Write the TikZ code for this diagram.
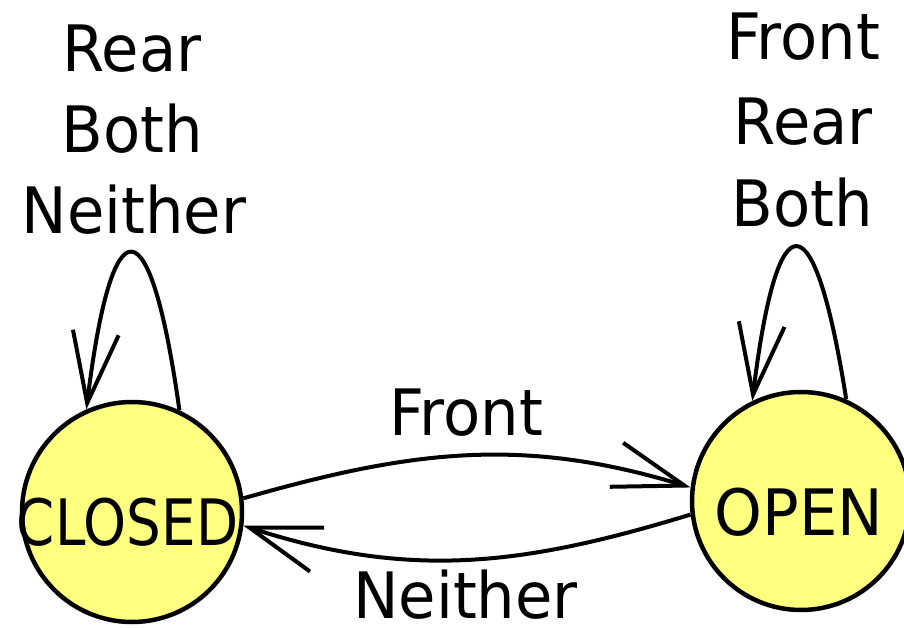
\documentclass[tikz,border=0pt]{standalone}
\usepackage{fontspec}
\setmainfont{DejaVu Sans}[FakeStretch=0.95]
\usetikzlibrary{arrows.meta}
\definecolor{stateyellow}{RGB}{255,255,128}
\tikzset{
  state/.style={circle, draw=black, fill=stateyellow, line width=4.5pt, inner sep=0pt},
  txt/.style={font=\fontsize{64}{64}\selectfont, inner sep=0pt, anchor=base},
  trans/.style={line width=4pt, -{Straight Barb[length=71pt, width=46pt, line width=4pt]}}
}
\begin{document}
\begin{tikzpicture}[x=1pt,y=1pt]
\useasboundingbox (0,0) rectangle (904,627);
\node[state, minimum size=220pt] (closed) at (132,115) {};
\node[state, minimum size=218pt] (open) at (801,126) {};
\node[txt] (closedtxt) at (127.5,82) {\scalebox{0.9}[1]{CLOSED}};
\node[txt] (opentxt) at (799,92) {OPEN};
% self loops
\draw[trans] (closed.65) to[out=98, in=83, looseness=5.8] (closed.114);
\draw[trans] (open.66) to[out=99, in=83, looseness=5.6] (open.116);
% transitions
\draw[trans] (closed.7) to[out=16, in=163] (open.173);
\draw[trans] (open.187) to[out=197, in=342] (closed.353);
% labels
\node[txt] (lr1) at (132,555) {Rear};
\node[txt] (lr2) at (132,474) {Both};
\node[txt] (lr3) at (134,393) {Neither};
\node[txt] (rr1) at (803,567) {Front};
\node[txt] (rr2) at (803,482) {Rear};
\node[txt] (rr3) at (802,400) {Both};
\node[txt] (ftxt) at (466,192) {Front};
\node[txt] (ntxt) at (465.5,9) {Neither};
\end{tikzpicture}
\end{document}
